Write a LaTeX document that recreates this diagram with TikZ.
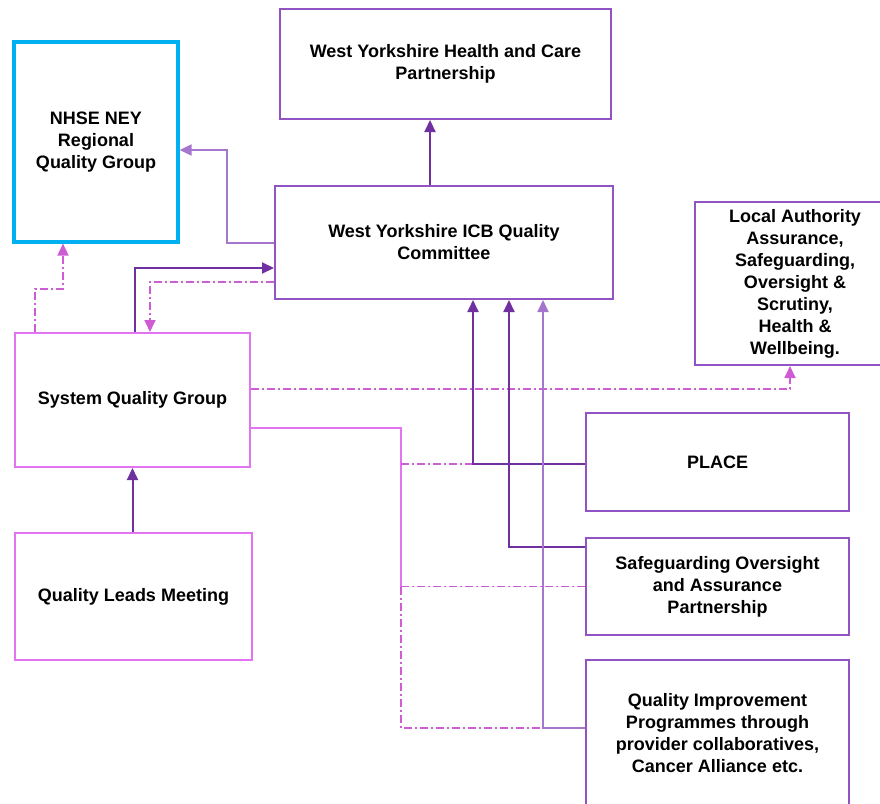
\documentclass[tikz,border=0pt]{standalone}
\usepackage{fontspec}
\setmainfont{Liberation Sans}
\usepackage{tikz}
\usetikzlibrary{arrows.meta, positioning, calc}

\definecolor{boxpurple}{RGB}{146,84,196}
\definecolor{flowpurple}{RGB}{112,48,160}
\definecolor{softpurple}{RGB}{165,118,205}
\definecolor{boxpink}{RGB}{226,116,242}
\definecolor{linkpink}{RGB}{206,92,212}
\definecolor{nhsecyan}{RGB}{0,176,240}

\begin{document}
\begin{tikzpicture}[
    x=1pt, y=-1pt,
    group/.style={rectangle, draw=boxpurple, line width=2pt, fill=white, align=center, font=\fontsize{18}{22}\selectfont\bfseries},
    pinkgroup/.style={group, draw=boxpink},
    flow/.style={draw=flowpurple, line width=2pt, -{Triangle[width=11pt,length=12pt]}},
    softflow/.style={flow, draw=softpurple},
    feed/.style={draw=boxpink, line width=1.8pt},
    link/.style={draw=linkpink, line width=1.8pt, dash pattern=on 8pt off 3pt on 2pt off 3pt},
    linkarrow/.style={link, -{Triangle[width=11pt,length=12pt]}}
]
\useasboundingbox (0,0) rectangle (880,803);

% Groups
\node[group, minimum width=331pt, minimum height=110pt] (wyhcp) at (445.5,64) {West Yorkshire Health and Care\\Partnership};
\node[group, draw=nhsecyan, line width=3.2pt, minimum width=164pt, minimum height=200pt] (nhse) at (96,142) {NHSE NEY\\Regional\\Quality Group};
\node[group, minimum width=338pt, minimum height=113pt] (icb) at (444,242.5) {West Yorkshire ICB Quality\\Committee};
\node[group, minimum width=200pt, minimum height=163pt] (la) at (795,283.5) {Local Authority\\Assurance,\\Safeguarding,\\Oversight \&\\Scrutiny,\\Health \&\\Wellbeing.};
\node[pinkgroup, minimum width=235pt, minimum height=134pt] (sqg) at (132.5,400) {System Quality Group};
\node[pinkgroup, minimum width=237pt, minimum height=127pt] (qlm) at (133.5,596.5) {Quality Leads Meeting};
\node[group, minimum width=263pt, minimum height=98pt] (place) at (717.5,462) {PLACE};
\node[group, minimum width=263pt, minimum height=97pt] (safe) at (717.5,586.5) {Safeguarding Oversight\\and Assurance\\Partnership};
\node[group, minimum width=263pt, minimum height=146pt] (qi) at (717.5,733) {Quality Improvement\\Programmes through\\provider collaboratives,\\Cancer Alliance etc.};

% Bends of the pink feed
\coordinate (trunk) at (401,428);
\coordinate (placeturn) at (473,464);
\coordinate (qiturn) at (543,728);

% ICB - WYHCP
\draw[flow] ([xshift=-14pt]icb.north) -- ([xshift=-14pt]icb.north |- wyhcp.south);

% ICB - NHSE
\draw[softflow] (icb.west) -- ++(-47,0) |- ([yshift=-8pt]nhse.east);

% SQG - ICB
\draw[flow] ([xshift=2.5pt]sqg.north) |- ([yshift=-25.5pt]icb.west);
\draw[linkarrow] ([yshift=-39.5pt]icb.west) -| ([xshift=17.5pt]sqg.north);

% SQG - NHSE
\draw[linkarrow] ([xshift=-97.5pt]sqg.north) -- ++(0,-43) -| ([xshift=-33pt]nhse.south);

% SQG - Local Authority
\draw[linkarrow] ([yshift=11pt]sqg.east) -| ([xshift=-5pt]la.south);

% SQG - PLACE, Safeguarding, QI
\draw[feed] ([yshift=-28pt]sqg.east) -| (trunk |- safe.west);
\draw[link] (trunk |- placeturn) -- (placeturn);
\draw[link] (trunk |- safe.west) -- (safe.west);
\draw[link] (trunk |- safe.west) -- (trunk |- qiturn) -- (qiturn);

% PLACE, Safeguarding, QI - ICB
\draw[flow] ([yshift=-2pt]place.west) -| ([xshift=29pt]icb.south);
\draw[flow] ([yshift=39.5pt]safe.west) -| ([xshift=65pt]icb.south);
\draw[softflow] ([yshift=5pt]qi.west) -| ([xshift=99pt]icb.south);

% QLM - SQG
\draw[flow] ([xshift=-1pt]qlm.north) -- ([xshift=-1pt]qlm.north |- sqg.south);

\end{tikzpicture}
\end{document}
